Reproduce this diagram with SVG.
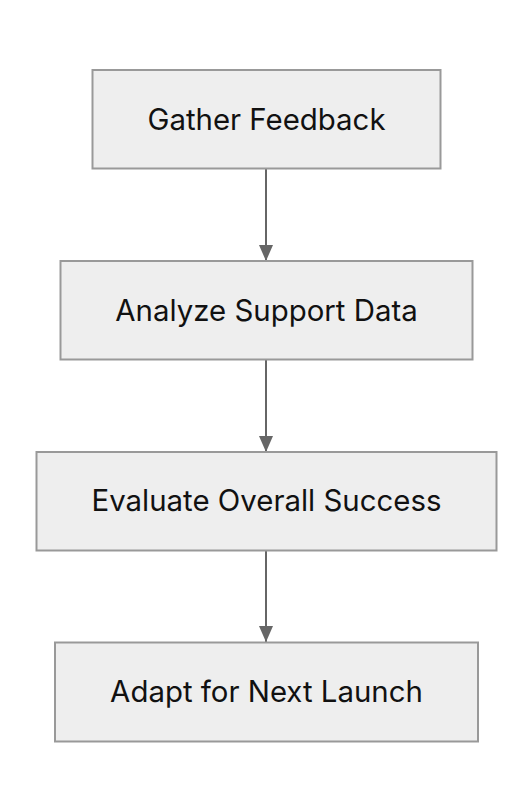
<svg xmlns="http://www.w3.org/2000/svg" width="532" height="812" viewBox="0 0 532 812">
<style>
.box{fill:#eeeeee;stroke:#999999;stroke-width:2}
.lbl{font-family:Inter,"Noto Sans",sans-serif;font-size:29.4px;fill:#111111;text-anchor:middle}
.edge{stroke:#666666;stroke-width:2;fill:none}
</style>
<defs>
<marker id="arr" viewBox="0 0 16 14" refX="16" refY="7" markerWidth="16" markerHeight="14" markerUnits="userSpaceOnUse" orient="auto">
<path d="M0,0 L16,7 L0,14 Z" fill="#666666"/>
</marker>
</defs>
<rect width="532" height="812" fill="#ffffff"/>
<g id="connectors">
<line class="edge" x1="266" y1="169" x2="266" y2="261" marker-end="url(#arr)"/>
<line class="edge" x1="266" y1="360" x2="266" y2="452" marker-end="url(#arr)"/>
<line class="edge" x1="266" y1="551" x2="266" y2="642" marker-end="url(#arr)"/>
</g>
<g id="n1"><rect class="box" x="92.5" y="70" width="348" height="98.5"/><text class="lbl" x="266.5" y="130">Gather Feedback</text></g>
<g id="n2"><rect class="box" x="60.5" y="261" width="412" height="98.5"/><text class="lbl" x="266.5" y="321">Analyze Support Data</text></g>
<g id="n3"><rect class="box" x="36.5" y="452" width="460" height="98.5"/><text class="lbl" x="266.5" y="511">Evaluate Overall Success</text></g>
<g id="n4"><rect class="box" x="55" y="642.5" width="423" height="99"/><text class="lbl" x="266.5" y="702">Adapt for Next Launch</text></g>
</svg>
